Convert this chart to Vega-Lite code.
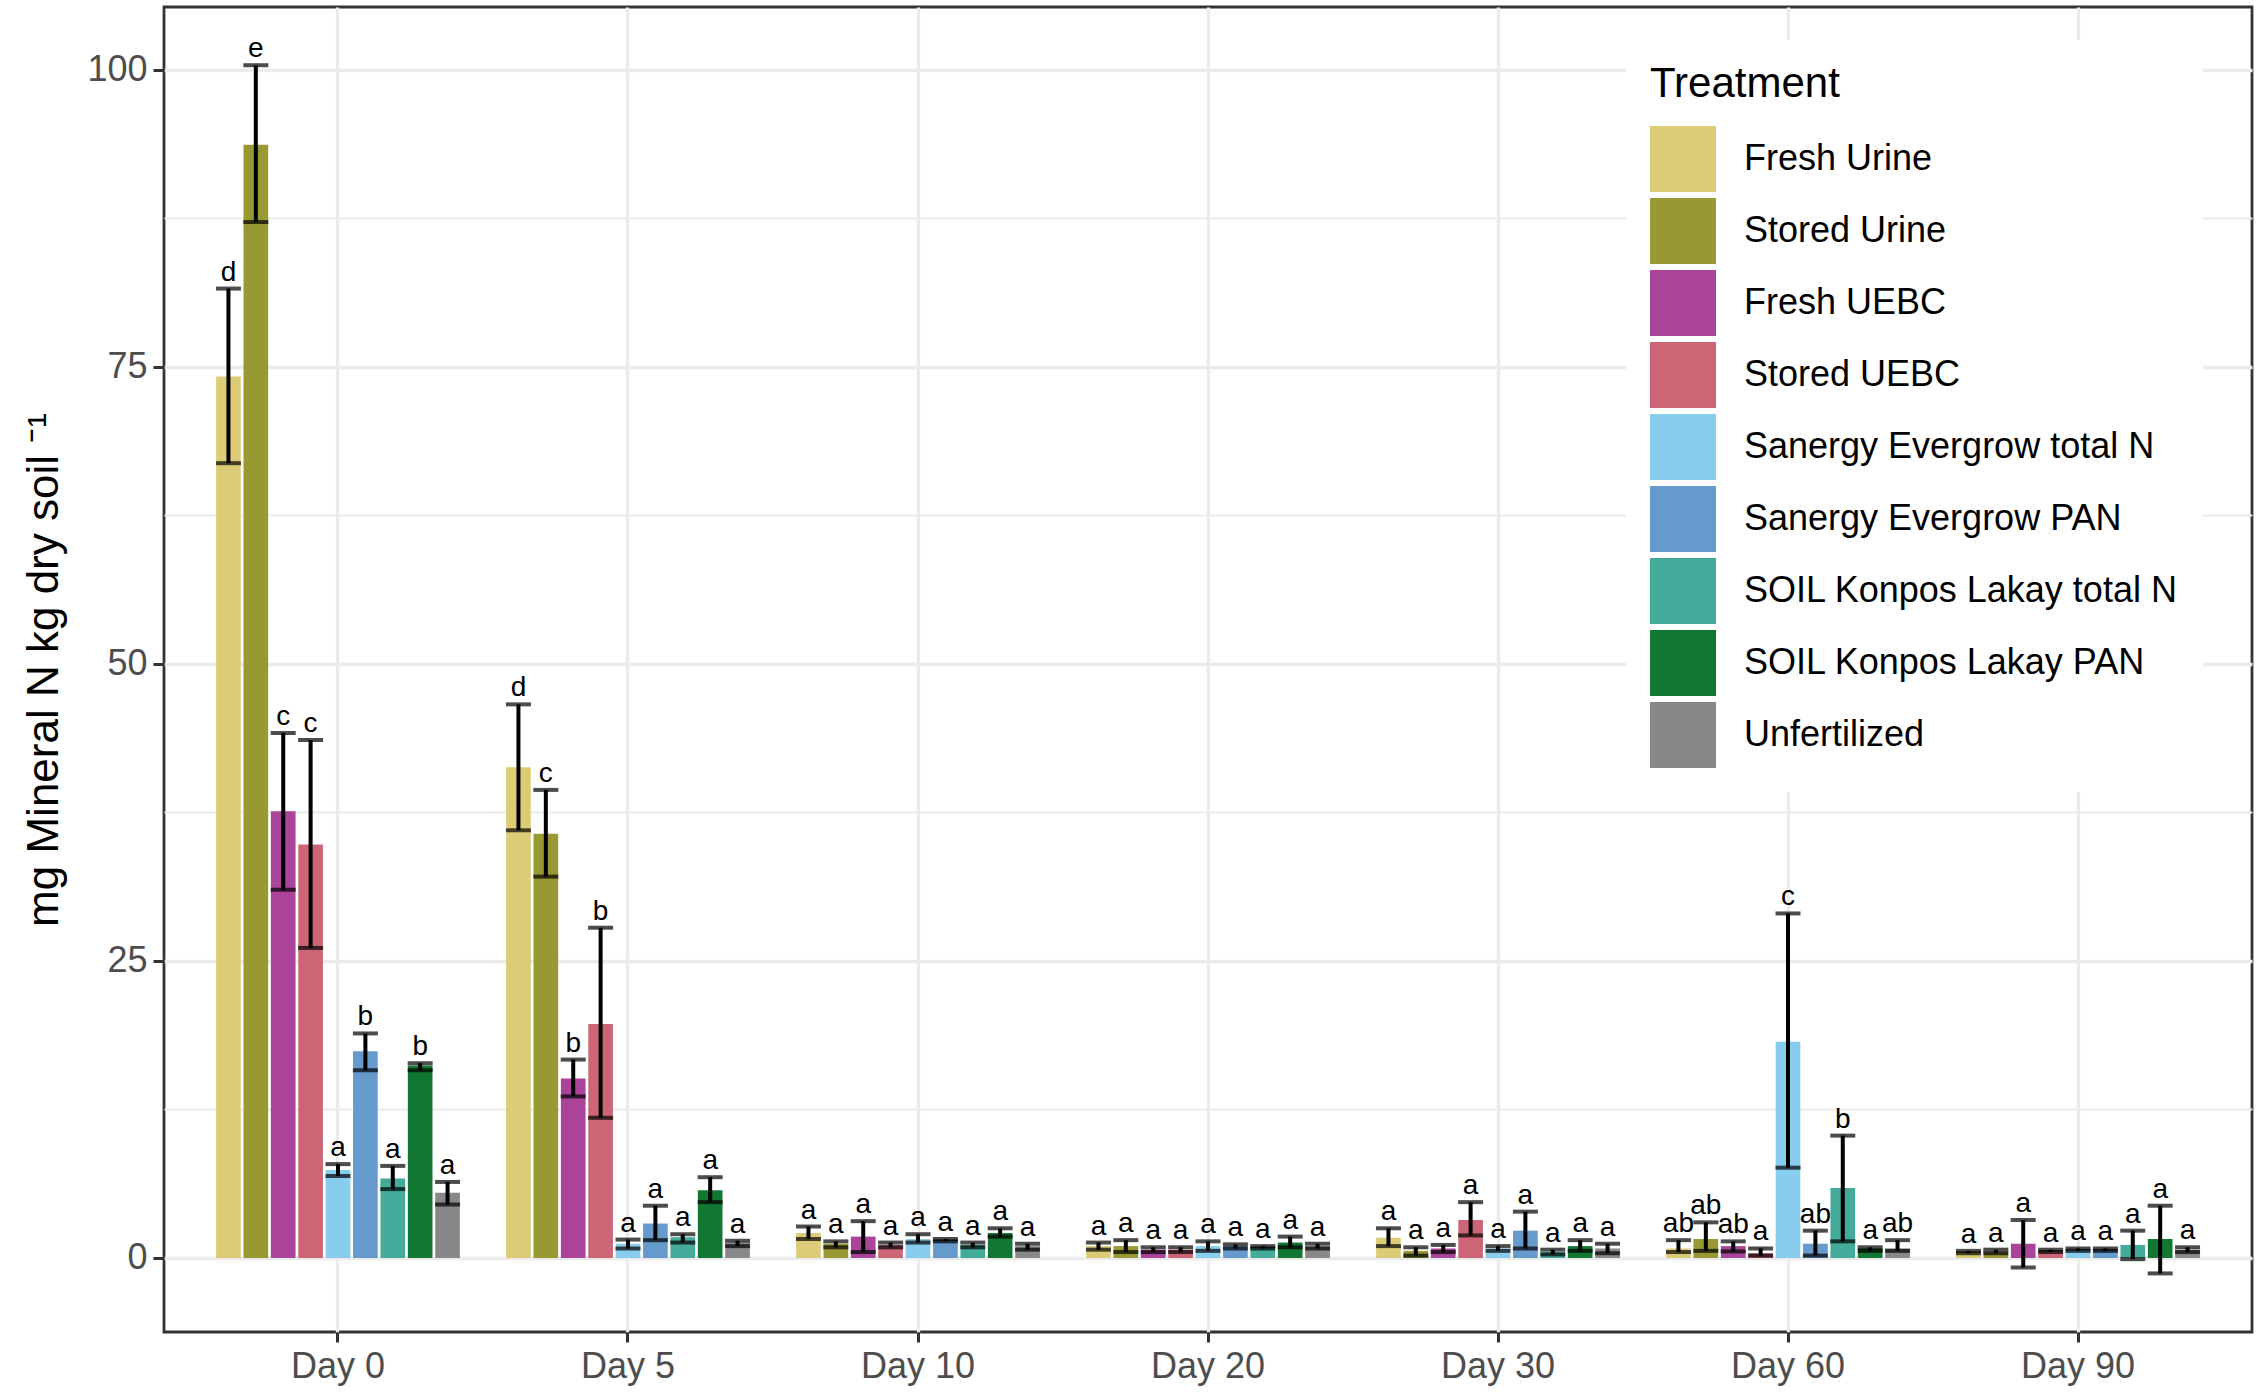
{
  "$schema": "https://vega.github.io/schema/vega-lite/v6.json",
  "width": 2088,
  "height": 1325,
  "autosize": {"type": "none"},
  "padding": {"left": 164, "top": 7, "right": 4, "bottom": 60},
  "background": "white",
  "config": {
    "font": "Liberation Sans",
    "view": {"stroke": "#333333", "strokeWidth": 2.8}
  },
  "data": {
    "values": [
      {"day": "Day 0", "treatment": "Fresh Urine", "mean": 74.2, "lo": 66.9, "hi": 81.6, "letter": "d"},
      {"day": "Day 0", "treatment": "Stored Urine", "mean": 93.7, "lo": 87.2, "hi": 100.4, "letter": "e"},
      {"day": "Day 0", "treatment": "Fresh UEBC", "mean": 37.6, "lo": 31.0, "hi": 44.2, "letter": "c"},
      {"day": "Day 0", "treatment": "Stored UEBC", "mean": 34.8, "lo": 26.1, "hi": 43.6, "letter": "c"},
      {"day": "Day 0", "treatment": "Sanergy Evergrow total N", "mean": 7.4, "lo": 6.9, "hi": 7.9, "letter": "a"},
      {"day": "Day 0", "treatment": "Sanergy Evergrow PAN", "mean": 17.4, "lo": 15.8, "hi": 18.9, "letter": "b"},
      {"day": "Day 0", "treatment": "SOIL Konpos Lakay total N", "mean": 6.7, "lo": 5.8, "hi": 7.75, "letter": "a"},
      {"day": "Day 0", "treatment": "SOIL Konpos Lakay PAN", "mean": 16.2, "lo": 15.8, "hi": 16.4, "letter": "b"},
      {"day": "Day 0", "treatment": "Unfertilized", "mean": 5.5, "lo": 4.5, "hi": 6.4, "letter": "a"},

      {"day": "Day 5", "treatment": "Fresh Urine", "mean": 41.3, "lo": 36.0, "hi": 46.6, "letter": "d"},
      {"day": "Day 5", "treatment": "Stored Urine", "mean": 35.7, "lo": 32.1, "hi": 39.4, "letter": "c"},
      {"day": "Day 5", "treatment": "Fresh UEBC", "mean": 15.1, "lo": 13.6, "hi": 16.7, "letter": "b"},
      {"day": "Day 5", "treatment": "Stored UEBC", "mean": 19.7, "lo": 11.8, "hi": 27.8, "letter": "b"},
      {"day": "Day 5", "treatment": "Sanergy Evergrow total N", "mean": 1.2, "lo": 0.8, "hi": 1.55, "letter": "a"},
      {"day": "Day 5", "treatment": "Sanergy Evergrow PAN", "mean": 2.9, "lo": 1.5, "hi": 4.4, "letter": "a"},
      {"day": "Day 5", "treatment": "SOIL Konpos Lakay total N", "mean": 1.75, "lo": 1.3, "hi": 2.0, "letter": "a"},
      {"day": "Day 5", "treatment": "SOIL Konpos Lakay PAN", "mean": 5.7, "lo": 4.7, "hi": 6.8, "letter": "a"},
      {"day": "Day 5", "treatment": "Unfertilized", "mean": 1.3, "lo": 1.0, "hi": 1.45, "letter": "a"},

      {"day": "Day 10", "treatment": "Fresh Urine", "mean": 2.1, "lo": 1.6, "hi": 2.65, "letter": "a"},
      {"day": "Day 10", "treatment": "Stored Urine", "mean": 1.2, "lo": 0.9, "hi": 1.4, "letter": "a"},
      {"day": "Day 10", "treatment": "Fresh UEBC", "mean": 1.8, "lo": 0.5, "hi": 3.1, "letter": "a"},
      {"day": "Day 10", "treatment": "Stored UEBC", "mean": 1.1, "lo": 0.9, "hi": 1.3, "letter": "a"},
      {"day": "Day 10", "treatment": "Sanergy Evergrow total N", "mean": 1.6, "lo": 1.3, "hi": 2.0, "letter": "a"},
      {"day": "Day 10", "treatment": "Sanergy Evergrow PAN", "mean": 1.5, "lo": 1.4, "hi": 1.6, "letter": "a"},
      {"day": "Day 10", "treatment": "SOIL Konpos Lakay total N", "mean": 1.1, "lo": 0.9, "hi": 1.3, "letter": "a"},
      {"day": "Day 10", "treatment": "SOIL Konpos Lakay PAN", "mean": 2.1, "lo": 1.8, "hi": 2.5, "letter": "a"},
      {"day": "Day 10", "treatment": "Unfertilized", "mean": 1.0, "lo": 0.7, "hi": 1.2, "letter": "a"},

      {"day": "Day 20", "treatment": "Fresh Urine", "mean": 1.0, "lo": 0.7, "hi": 1.3, "letter": "a"},
      {"day": "Day 20", "treatment": "Stored Urine", "mean": 1.0, "lo": 0.5, "hi": 1.5, "letter": "a"},
      {"day": "Day 20", "treatment": "Fresh UEBC", "mean": 0.7, "lo": 0.5, "hi": 0.9, "letter": "a"},
      {"day": "Day 20", "treatment": "Stored UEBC", "mean": 0.7, "lo": 0.5, "hi": 0.9, "letter": "a"},
      {"day": "Day 20", "treatment": "Sanergy Evergrow total N", "mean": 1.0, "lo": 0.6, "hi": 1.4, "letter": "a"},
      {"day": "Day 20", "treatment": "Sanergy Evergrow PAN", "mean": 1.0, "lo": 0.8, "hi": 1.15, "letter": "a"},
      {"day": "Day 20", "treatment": "SOIL Konpos Lakay total N", "mean": 0.9, "lo": 0.8, "hi": 1.0, "letter": "a"},
      {"day": "Day 20", "treatment": "SOIL Konpos Lakay PAN", "mean": 1.3, "lo": 0.9, "hi": 1.8, "letter": "a"},
      {"day": "Day 20", "treatment": "Unfertilized", "mean": 1.0, "lo": 0.8, "hi": 1.2, "letter": "a"},

      {"day": "Day 30", "treatment": "Fresh Urine", "mean": 1.7, "lo": 1.0, "hi": 2.5, "letter": "a"},
      {"day": "Day 30", "treatment": "Stored Urine", "mean": 0.6, "lo": 0.2, "hi": 0.9, "letter": "a"},
      {"day": "Day 30", "treatment": "Fresh UEBC", "mean": 0.8, "lo": 0.5, "hi": 1.1, "letter": "a"},
      {"day": "Day 30", "treatment": "Stored UEBC", "mean": 3.2, "lo": 1.9, "hi": 4.7, "letter": "a"},
      {"day": "Day 30", "treatment": "Sanergy Evergrow total N", "mean": 0.8, "lo": 0.6, "hi": 1.0, "letter": "a"},
      {"day": "Day 30", "treatment": "Sanergy Evergrow PAN", "mean": 2.3, "lo": 0.8, "hi": 3.9, "letter": "a"},
      {"day": "Day 30", "treatment": "SOIL Konpos Lakay total N", "mean": 0.5, "lo": 0.3, "hi": 0.7, "letter": "a"},
      {"day": "Day 30", "treatment": "SOIL Konpos Lakay PAN", "mean": 1.0, "lo": 0.6, "hi": 1.5, "letter": "a"},
      {"day": "Day 30", "treatment": "Unfertilized", "mean": 0.8, "lo": 0.4, "hi": 1.2, "letter": "a"},

      {"day": "Day 60", "treatment": "Fresh Urine", "mean": 0.8, "lo": 0.5, "hi": 1.5, "letter": "ab"},
      {"day": "Day 60", "treatment": "Stored Urine", "mean": 1.6, "lo": 0.6, "hi": 3.0, "letter": "ab"},
      {"day": "Day 60", "treatment": "Fresh UEBC", "mean": 1.0, "lo": 0.55, "hi": 1.4, "letter": "ab"},
      {"day": "Day 60", "treatment": "Stored UEBC", "mean": 0.4, "lo": 0.2, "hi": 0.8, "letter": "a"},
      {"day": "Day 60", "treatment": "Sanergy Evergrow total N", "mean": 18.2, "lo": 7.6, "hi": 29.0, "letter": "c"},
      {"day": "Day 60", "treatment": "Sanergy Evergrow PAN", "mean": 1.2, "lo": 0.2, "hi": 2.3, "letter": "ab"},
      {"day": "Day 60", "treatment": "SOIL Konpos Lakay total N", "mean": 5.9, "lo": 1.4, "hi": 10.3, "letter": "b"},
      {"day": "Day 60", "treatment": "SOIL Konpos Lakay PAN", "mean": 0.8, "lo": 0.6, "hi": 0.9, "letter": "a"},
      {"day": "Day 60", "treatment": "Unfertilized", "mean": 0.8, "lo": 0.6, "hi": 1.5, "letter": "ab"},

      {"day": "Day 90", "treatment": "Fresh Urine", "mean": 0.5, "lo": 0.4, "hi": 0.6, "letter": "a"},
      {"day": "Day 90", "treatment": "Stored Urine", "mean": 0.5, "lo": 0.4, "hi": 0.7, "letter": "a"},
      {"day": "Day 90", "treatment": "Fresh UEBC", "mean": 1.2, "lo": -0.8, "hi": 3.2, "letter": "a"},
      {"day": "Day 90", "treatment": "Stored UEBC", "mean": 0.6, "lo": 0.5, "hi": 0.7, "letter": "a"},
      {"day": "Day 90", "treatment": "Sanergy Evergrow total N", "mean": 0.7, "lo": 0.6, "hi": 0.8, "letter": "a"},
      {"day": "Day 90", "treatment": "Sanergy Evergrow PAN", "mean": 0.7, "lo": 0.6, "hi": 0.8, "letter": "a"},
      {"day": "Day 90", "treatment": "SOIL Konpos Lakay total N", "mean": 1.1, "lo": -0.1, "hi": 2.3, "letter": "a"},
      {"day": "Day 90", "treatment": "SOIL Konpos Lakay PAN", "mean": 1.6, "lo": -1.3, "hi": 4.4, "letter": "a"},
      {"day": "Day 90", "treatment": "Unfertilized", "mean": 0.7, "lo": 0.5, "hi": 0.9, "letter": "a"}
    ]
  },
  "encoding": {
    "x": {
      "field": "day",
      "type": "nominal",
      "sort": ["Day 0", "Day 5", "Day 10", "Day 20", "Day 30", "Day 60", "Day 90"],
      "scale": {"paddingInner": 0.15, "paddingOuter": 0.175},
      "axis": {
        "title": null,
        "labelAngle": 0,
        "labelFontSize": 36,
        "labelColor": "#4D4D4D",
        "labelPadding": 7,
        "tickColor": "#333333",
        "tickWidth": 3,
        "tickSize": 10,
        "domain": false,
        "grid": true,
        "gridColor": "#EBEBEB",
        "gridWidth": 3.3
      }
    },
    "xOffset": {
      "field": "treatment",
      "type": "nominal",
      "sort": ["Fresh Urine", "Stored Urine", "Fresh UEBC", "Stored UEBC", "Sanergy Evergrow total N", "Sanergy Evergrow PAN", "SOIL Konpos Lakay total N", "SOIL Konpos Lakay PAN", "Unfertilized"],
      "scale": {"paddingInner": 0.1, "paddingOuter": 0.05}
    }
  },
  "layer": [
    {
      "mark": {"type": "bar"},
      "encoding": {
        "y": {
          "field": "mean",
          "type": "quantitative",
          "scale": {"domain": [-6.23, 105.3], "nice": false, "zero": false},
          "axis": {
            "title": "mg Mineral N kg dry soil ⁻¹",
            "titleFontSize": 44,
            "titleFontWeight": "normal",
            "titleColor": "black",
            "titlePadding": 20,
            "values": [0, 12.5, 25, 37.5, 50, 62.5, 75, 87.5, 100],
            "labelExpr": "datum.value % 25 === 0 ? datum.label : ''",
            "labelFontSize": 36,
            "labelColor": "#4D4D4D",
            "labelPadding": 6,
            "tickColor": "#333333",
            "tickWidth": 3,
            "tickSize": 11,
            "tickOpacity": {"condition": {"test": "datum.value % 25 !== 0", "value": 0}, "value": 1},
            "domain": false,
            "grid": true,
            "gridColor": "#EBEBEB",
            "gridWidth": {"condition": {"test": "datum.value % 25 !== 0", "value": 1.8}, "value": 3.3}
          }
        },
        "color": {
          "field": "treatment",
          "type": "nominal",
          "sort": ["Fresh Urine", "Stored Urine", "Fresh UEBC", "Stored UEBC", "Sanergy Evergrow total N", "Sanergy Evergrow PAN", "SOIL Konpos Lakay total N", "SOIL Konpos Lakay PAN", "Unfertilized"],
          "scale": {
            "domain": ["Fresh Urine", "Stored Urine", "Fresh UEBC", "Stored UEBC", "Sanergy Evergrow total N", "Sanergy Evergrow PAN", "SOIL Konpos Lakay total N", "SOIL Konpos Lakay PAN", "Unfertilized"],
            "range": ["#DDCC77", "#999933", "#AA4499", "#CC6677", "#88CCEE", "#6699CC", "#44AA99", "#117733", "#888888"]
          },
          "legend": {
            "title": "Treatment",
            "orient": "none",
            "legendX": 1462,
            "legendY": 33,
            "padding": 24,
            "fillColor": "white",
            "titleFontSize": 42,
            "titleFontWeight": "normal",
            "titleColor": "black",
            "titlePadding": 20,
            "titleLimit": 0,
            "labelFontSize": 36,
            "labelColor": "black",
            "labelOffset": 28,
            "labelLimit": 0,
            "symbolType": "square",
            "symbolSize": 4356,
            "symbolStrokeWidth": 0,
            "symbolOpacity": 1,
            "rowPadding": 6
          }
        }
      }
    },
    {
      "mark": {"type": "rule", "color": "black", "strokeWidth": 4},
      "encoding": {
        "y": {"field": "lo", "type": "quantitative"},
        "y2": {"field": "hi"}
      }
    },
    {
      "mark": {"type": "tick", "color": "black", "thickness": 4, "size": 25},
      "encoding": {"y": {"field": "hi", "type": "quantitative"}}
    },
    {
      "mark": {"type": "tick", "color": "black", "thickness": 4, "size": 25},
      "encoding": {"y": {"field": "lo", "type": "quantitative"}}
    },
    {
      "mark": {"type": "text", "fontSize": 28, "color": "black", "baseline": "alphabetic", "dy": -8},
      "encoding": {
        "y": {"field": "hi", "type": "quantitative"},
        "text": {"field": "letter"}
      }
    }
  ]
}
